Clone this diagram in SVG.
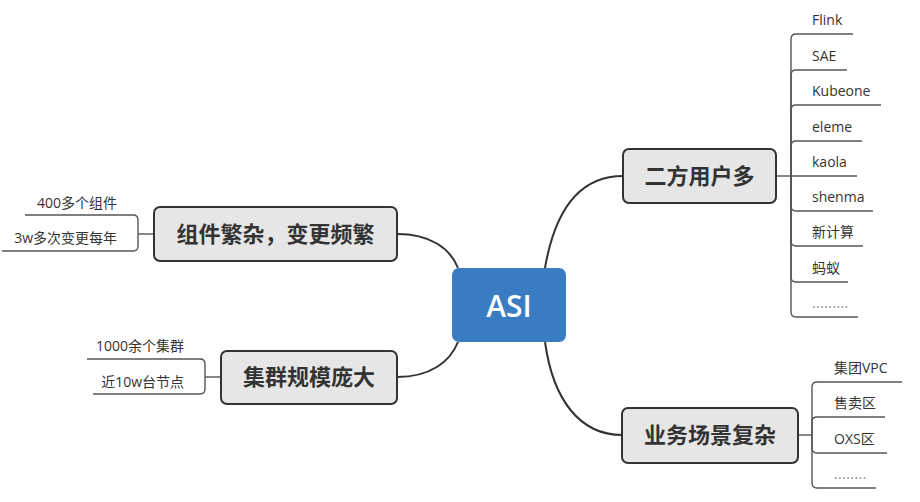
<svg xmlns="http://www.w3.org/2000/svg" width="920" height="502" viewBox="0 0 920 502">
<style>
.topic rect{fill:#e6e6e6;stroke:#333;stroke-width:2}
.topic text{font-family:"Open Sans","Noto Sans CJK SC",sans-serif;font-size:22px;font-weight:bold;fill:#333;text-anchor:middle}
.root rect{fill:#3a7cc2}
.root text{font-family:"Open Sans","Noto Sans CJK SC",sans-serif;font-size:30px;font-weight:600;fill:#fff;text-anchor:middle}
.leaf text{font-family:"Open Sans","Noto Sans CJK SC",sans-serif;font-size:14px;fill:#333}
.leaf text.r{text-anchor:end}
.leaf text.dots{fill:#888;letter-spacing:0.4px}
.main{fill:none;stroke:#333;stroke-width:2}
.sub{fill:none;stroke:#555;stroke-width:1.4}
</style>
<rect width="920" height="502" fill="#fff"/>
<g id="connectors">
<path class="main" d="M397 234 C430 234 450 248 458 268"/>
<path class="main" d="M397 377 C430 377 450 362 458 342"/>
<path class="main" d="M545 268 C555 210 580 176 623 176"/>
<path class="main" d="M545 342 C553 400 580 435 622 435"/>
<path class="sub" d="M776 176 H791"/>
<path class="sub" d="M791 176 V39 Q791 34 796 34 H853"/>
<path class="sub" d="M791 176 V75 Q791 70 796 70 H847"/>
<path class="sub" d="M791 176 V110 Q791 105 796 105 H881"/>
<path class="sub" d="M791 176 V146 Q791 141 796 141 H862"/>
<path class="sub" d="M791 176 H857"/>
<path class="sub" d="M791 176 V206 Q791 211 796 211 H873"/>
<path class="sub" d="M791 176 V241 Q791 246 796 246 H863"/>
<path class="sub" d="M791 176 V277 Q791 282 796 282 H848"/>
<path class="sub" d="M791 176 V312 Q791 317 796 317 H858"/>
<path class="sub" d="M798 435 H812"/>
<path class="sub" d="M812 435 V387 Q812 382 817 382 H902"/>
<path class="sub" d="M812 435 V422 Q812 417 817 417 H885"/>
<path class="sub" d="M812 435 V448 Q812 453 817 453 H887"/>
<path class="sub" d="M812 435 V483 Q812 488 817 488 H876"/>
<path class="sub" d="M154 234 H138"/>
<path class="sub" d="M138 234 V220 Q138 215 133 215 H25"/>
<path class="sub" d="M138 234 V246 Q138 251 133 251 H2"/>
<path class="sub" d="M221 377 H205"/>
<path class="sub" d="M205 377 V364 Q205 359 200 359 H87"/>
<path class="sub" d="M205 377 V389 Q205 394 200 394 H93"/>
</g>
<g id="asi" class="root">
<rect x="452" y="268" width="114" height="74" rx="7"/>
<text x="509" y="317">ASI</text>
</g>
<g id="erfang" class="topic">
<rect x="623" y="149" width="153" height="54" rx="6"/>
<text x="699.5" y="184">二方用户多</text>
</g>
<g id="yewu" class="topic">
<rect x="622" y="408" width="176" height="55" rx="6"/>
<text x="710" y="443">业务场景复杂</text>
</g>
<g id="zujian" class="topic">
<rect x="154" y="207" width="243" height="54" rx="6"/>
<text x="275.5" y="242">组件繁杂，变更频繁</text>
</g>
<g id="jiqun" class="topic">
<rect x="221" y="351" width="176" height="53" rx="6"/>
<text x="309" y="385">集群规模庞大</text>
</g>
<g id="erfang-children" class="leaf">
<text x="812" y="25">Flink</text>
<text x="812" y="61">SAE</text>
<text x="812" y="96">Kubeone</text>
<text x="812" y="132">eleme</text>
<text x="812" y="167">kaola</text>
<text x="812" y="202">shenma</text>
<text x="812" y="237">新计算</text>
<text x="812" y="273">蚂蚁</text>
<text class="dots" x="812" y="308">.........</text>
</g>
<g id="yewu-children" class="leaf">
<text x="834" y="373">集团VPC</text>
<text x="834" y="408">售卖区</text>
<text x="834" y="444">OXS区</text>
<text class="dots" x="834" y="479">........</text>
</g>
<g id="zujian-children" class="leaf">
<text class="r" x="117" y="208">400多个组件</text>
<text class="r" x="117" y="243">3w多次变更每年</text>
</g>
<g id="jiqun-children" class="leaf">
<text class="r" x="184" y="351">1000余个集群</text>
<text class="r" x="184" y="387">近10w台节点</text>
</g>
</svg>
